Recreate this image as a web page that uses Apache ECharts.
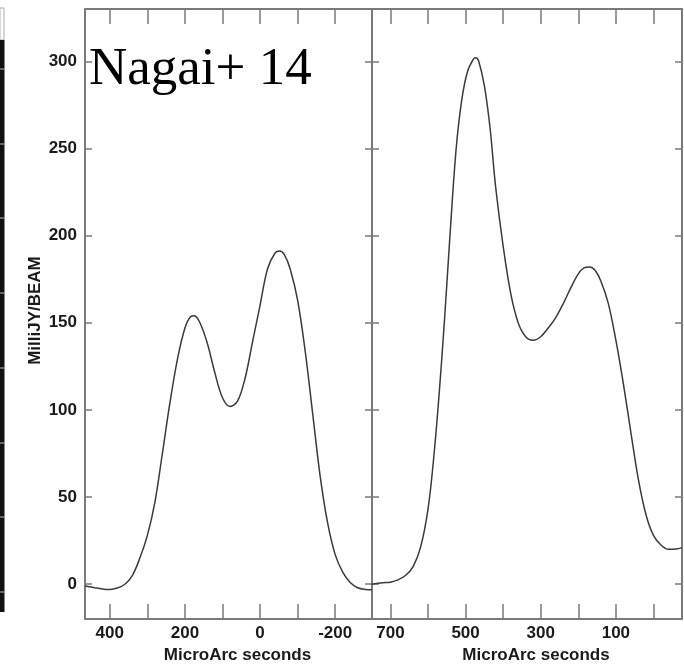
<!DOCTYPE html>
<html>
<head>
<meta charset="utf-8">
<style>
  html, body { margin: 0; padding: 0; background: #fff; }
  #chart { width: 684px; height: 669px; }
</style>
<script src="https://cdn.jsdelivr.net/npm/echarts@6/dist/echarts.min.js"></script>
</head>
<body>
<div id="chart"></div>
<script>
// left panel (MicroArc seconds, MilliJY/BEAM)
var leftX = [466, 440, 420, 400, 380, 360, 340, 320, 300, 280, 260, 240, 220, 200, 185, 175, 160, 140, 120, 100, 80, 60, 40, 20, 0, -20, -40, -52, -65, -80, -100, -120, -140, -160, -180, -200, -220, -240, -260, -280, -298];
var leftY = [-1, -2, -2.7, -3, -2.2, 0, 5, 15, 28, 47, 75, 104, 129, 147, 153.5, 154, 150, 138, 121, 107, 102, 105, 118, 139, 160, 181, 190, 191.2, 189, 181, 163, 134, 98, 62, 35, 17, 7, 1, -2, -3, -3.2];

// right panel
var rightX = [750, 720, 700, 680, 660, 640, 620, 600, 585, 570, 555, 540, 525, 510, 495, 480, 473, 465, 450, 435, 420, 400, 380, 360, 340, 320, 300, 280, 260, 240, 220, 200, 185, 170, 155, 140, 120, 100, 80, 60, 40, 20, 0, -20, -40, -60, -76];
var rightY = [0, 0.8, 1.2, 2.5, 5, 10, 21, 43, 72, 110, 155, 205, 250, 278, 294, 301, 302, 300, 286, 262, 228, 194, 167, 150, 142, 140, 142, 147, 153, 161, 170, 178, 181.5, 182, 180, 174, 161, 140, 115, 87, 60, 40, 28, 22.5, 20, 20.2, 21];

var yTicks = [0, 50, 100, 150, 200, 250, 300];
var leftTicks = [400, 300, 200, 100, 0, -100, -200];
var leftLabels = [400, 200, 0, -200];
var rightTicks = [700, 600, 500, 400, 300, 200, 100, 0];
var rightLabels = [700, 500, 300, 100];

var axisColor = '#7a7a7a';
var labelFont = { fontFamily: 'Liberation Sans', fontWeight: 'bold', fontSize: 17, color: '#1a1a1a' };

function zip(xs, ys) {
  return xs.map(function (x, i) { return [x, ys[i]]; });
}

function xAxis(grid, pos, min, max, ticks, labels, name) {
  return {
    type: 'value', gridIndex: grid, position: pos, inverse: true,
    min: min, max: max,
    axisLine: { onZero: false, lineStyle: { color: axisColor, width: 2 } },
    axisTick: { inside: true, length: 15, customValues: ticks, lineStyle: { color: axisColor, width: 1.5 } },
    axisLabel: labels ? Object.assign({ margin: 6, customValues: labels }, labelFont) : { show: false },
    splitLine: { show: false },
    name: name || '',
    nameLocation: 'middle',
    nameGap: 26,
    nameTextStyle: { fontFamily: 'Liberation Sans', fontWeight: 'bold', fontSize: 17, color: '#1a1a1a', padding: [0, 0, 0, 18] }
  };
}

function yAxis(grid, pos, labels, name) {
  return {
    type: 'value', gridIndex: grid, position: pos,
    min: -20, max: 330,
    axisLine: { onZero: false, lineStyle: { color: axisColor, width: 2 } },
    axisTick: { inside: true, length: 7, customValues: yTicks, lineStyle: { color: axisColor, width: 1.5 } },
    axisLabel: labels ? Object.assign({ margin: 8, customValues: yTicks }, labelFont) : { show: false },
    splitLine: { show: false },
    name: name || '',
    nameLocation: 'middle',
    nameGap: 41,
    nameTextStyle: { fontFamily: 'Liberation Sans', fontWeight: 'bold', fontSize: 17, color: '#1a1a1a', padding: [0, 0, 0, 7] }
  };
}

var chart = echarts.init(document.getElementById('chart'));
chart.setOption({
  backgroundColor: '#fff',
  animation: false,
  grid: [
    { left: 85, top: 9, width: 287, bottom: 39 },
    { left: 372, top: 9, width: 310, bottom: 39 }
  ],
  xAxis: [
    xAxis(0, 'bottom', -298, 466, leftTicks, leftLabels, 'MicroArc seconds'),
    xAxis(0, 'top', -298, 466, leftTicks, null),
    xAxis(1, 'bottom', -76, 749, rightTicks, rightLabels, 'MicroArc seconds'),
    xAxis(1, 'top', -76, 749, rightTicks, null)
  ],
  yAxis: [
    yAxis(0, 'left', true, 'MilliJY/BEAM'),
    yAxis(0, 'right', false),
    yAxis(1, 'left', false),
    yAxis(1, 'right', false)
  ],
  series: [
    {
      type: 'line', xAxisIndex: 0, yAxisIndex: 0,
      data: zip(leftX, leftY), smooth: 0.35, showSymbol: false,
      lineStyle: { color: '#3a3a3a', width: 1.5 }
    },
    {
      type: 'line', xAxisIndex: 2, yAxisIndex: 2,
      data: zip(rightX, rightY), smooth: 0.35, showSymbol: false,
      lineStyle: { color: '#3a3a3a', width: 1.5 }
    }
  ],
  graphic: [
    { type: 'text', left: 89, top: 44, style: { text: 'Nagai+ 14', font: '53px "Liberation Serif"', fill: '#000' } },
    // cut-off strip of the neighbouring figure
    { type: 'rect', shape: { x: 0, y: 8, width: 4, height: 32 }, style: { fill: '#fff', stroke: '#aaa', lineWidth: 1 } },
    { type: 'rect', shape: { x: 0, y: 40, width: 4.5, height: 572 }, style: { fill: '#111' } },
    { type: 'group', children: [69, 144, 218, 293, 368, 443, 517, 592].map(function (y) {
        return { type: 'line', shape: { x1: 0, y1: y, x2: 4.5, y2: y }, style: { stroke: '#bbb', lineWidth: 1 } };
      })
    }
  ]
});
</script>
</body>
</html>
